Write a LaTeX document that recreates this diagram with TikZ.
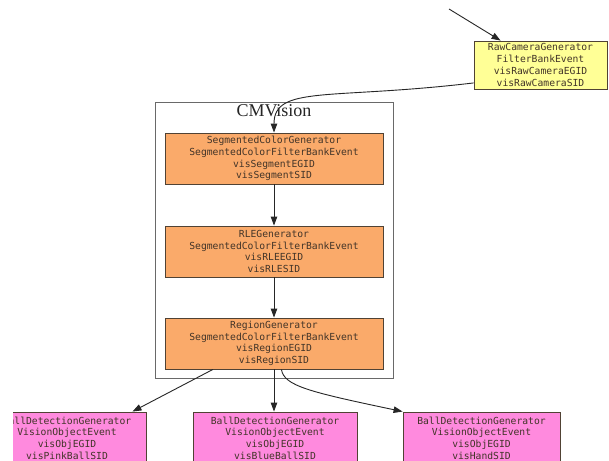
\documentclass[tikz,border=0pt]{standalone}
\usepackage{fontspec}
\setmainfont{Liberation Serif}
\newfontfamily\gvmono{DejaVu Sans Mono}
\usetikzlibrary{arrows.meta,calc}
\definecolor{yelcol}{RGB}{255,255,150}
\definecolor{orgcol}{RGB}{250,170,106}
\definecolor{pnkcol}{RGB}{255,138,222}
\definecolor{edgecol}{RGB}{80,66,52}
\definecolor{txtcol}{RGB}{66,52,40}
\definecolor{clucol}{RGB}{105,105,105}
\tikzset{
  gen/.style={draw=edgecol, line width=0.9pt, text=txtcol,
    font=\gvmono\fontsize{9.7}{11.7}\selectfont, align=center, inner sep=0pt},
  yelbox/.style={gen, fill=yelcol, minimum width=133pt, minimum height=48pt},
  orgbox/.style={gen, fill=orgcol, minimum width=218pt, minimum height=51pt},
  pnkbox/.style={gen, fill=pnkcol, minimum height=52pt},
  cluster/.style={draw=clucol, line width=0.9pt, inner sep=0pt},
  conn/.style={draw=black!85, line width=0.9pt, -{Triangle[length=9pt,width=6.5pt]}}
}
\begin{document}
\begin{tikzpicture}[x=1pt,y=-1pt]
\useasboundingbox (0,0) rectangle (609,460);
\clip (0,0) rectangle (609,460);
\fill[white] (0,0) rectangle (609,460);

\node[cluster, minimum width=238pt, minimum height=276pt] (cmv) at (274,240) {};
\node[font=\fontsize{18}{20}\selectfont, text=black!85, anchor=north, inner sep=0pt] (cmvlabel) at (274,104) {CMVision};

\node[yelbox] (raw) at (540.5,65) {RawCameraGenerator\\FilterBankEvent\\visRawCameraEGID\\visRawCameraSID};
\node[orgbox] (seg) at (274,158.5) {SegmentedColorGenerator\\SegmentedColorFilterBankEvent\\visSegmentEGID\\visSegmentSID};
\node[orgbox] (rle) at (274,251.5) {RLEGenerator\\SegmentedColorFilterBankEvent\\visRLEEGID\\visRLESID};
\node[orgbox] (reg) at (274,343.5) {RegionGenerator\\SegmentedColorFilterBankEvent\\visRegionEGID\\visRegionSID};

\begin{scope}
\clip (13,0) rectangle (609,460);
\node[pnkbox, minimum width=158pt] (pink) at (67,438) {BallDetectionGenerator\\VisionObjectEvent\\visObjEGID\\visPinkBallSID};
\end{scope}
\node[pnkbox, minimum width=164pt] (blue) at (275,438) {BallDetectionGenerator\\VisionObjectEvent\\visObjEGID\\visBlueBallSID};
\node[pnkbox, minimum width=157pt] (hand) at (481.5,438) {BallDetectionGenerator\\VisionObjectEvent\\visObjEGID\\visHandSID};

\coordinate (rawin) at (449,9);
\draw[conn] (rawin) -- (raw);
\draw[conn] (raw.195) .. controls (330,100) and (274,85) .. (seg.north);
\draw[conn] (seg.south) -- (rle.north);
\draw[conn] (rle.south) -- (reg.north);
\draw[conn] (reg.203) -- (pink.22);
\draw[conn] (reg.south) -- (reg.south |- blue.north);
\draw[conn] (reg.286) .. controls (284,386) and (310,392) .. (hand.north west);
\end{tikzpicture}
\end{document}
